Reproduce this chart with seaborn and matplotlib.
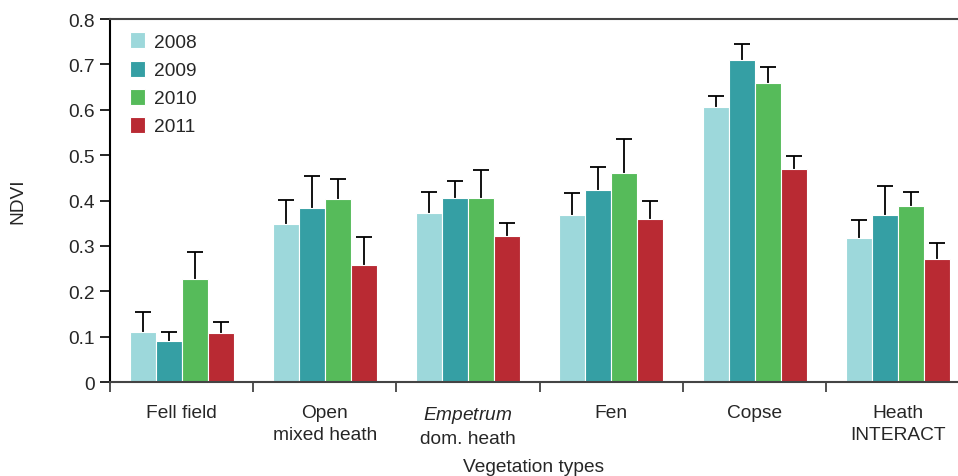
import numpy as np
import pandas as pd
import matplotlib
matplotlib.use("Agg")
import matplotlib.pyplot as plt
import seaborn as sns

# ── DATA ──────────────────────────────────────────────────────────────
vegetation = ["Fell field", "Open\nmixed heath", "Empetrum\ndom. heath",
              "Fen", "Copse", "Heath\nINTERACT"]
years = ["2008", "2009", "2010", "2011"]

ndvi_2008 = [0.111, 0.349, 0.372, 0.368, 0.606, 0.318]
ndvi_2009 = [0.090, 0.383, 0.406, 0.424, 0.710, 0.369]
ndvi_2010 = [0.227, 0.404, 0.406, 0.461, 0.660, 0.388]
ndvi_2011 = [0.107, 0.259, 0.322, 0.360, 0.470, 0.272]

# upper error (SE) above each bar
err_2008 = [0.044, 0.052, 0.047, 0.049, 0.024, 0.040]
err_2009 = [0.020, 0.072, 0.038, 0.051, 0.035, 0.064]
err_2010 = [0.060, 0.044, 0.062, 0.074, 0.034, 0.031]
err_2011 = [0.026, 0.060, 0.028, 0.039, 0.028, 0.034]

colors = ["#9dd8db", "#359fa4", "#56bb5a", "#b92a33"]

values = [ndvi_2008, ndvi_2009, ndvi_2010, ndvi_2011]
errors = [err_2008, err_2009, err_2010, err_2011]

df = pd.DataFrame({
    "veg":  np.tile(vegetation, len(years)),
    "year": np.repeat(years, len(vegetation)),
    "ndvi": np.concatenate(values),
    "err":  np.concatenate(errors),
})

# ── PLOT ──────────────────────────────────────────────────────────────
sns.set_style("white")
plt.rcParams["font.family"] = ["Liberation Sans", "DejaVu Sans"]
plt.rcParams["mathtext.fontset"] = "custom"
plt.rcParams["mathtext.it"] = "Liberation Sans:italic"
plt.rcParams["mathtext.rm"] = "Liberation Sans"
fs = 13.8

fig = plt.figure(figsize=(9.58, 4.77), dpi=100)
ax = fig.add_axes([0.1148, 0.197, 0.8852, 0.761])

sns.barplot(data=df, x="veg", y="ndvi", hue="year", order=vegetation,
            hue_order=years, palette=colors, width=0.725, errorbar=None,
            edgecolor="white", linewidth=0.8, saturation=1, ax=ax, zorder=2)

# error bars: stem behind the bar, cap only on top
for bars, yr in zip(ax.containers, years):
    sub = df[df["year"] == yr].set_index("veg").loc[vegetation]
    xs = [b.get_x() + b.get_width() / 2 for b in bars]
    tops = sub["ndvi"] + sub["err"]
    ax.errorbar(xs, sub["ndvi"], yerr=[np.zeros(len(xs)), sub["err"]],
                fmt="none", ecolor="black", elinewidth=1.3,
                capsize=0, zorder=1)
    ax.plot(xs, tops, ls="none", marker="_", ms=11, mew=1.3,
            color="black", zorder=1)

ax.set_ylim(0, 0.8)
ax.set_xlim(-0.5, 5.42)
ax.set_yticks(np.arange(0, 0.81, 0.1))
ax.set_yticklabels(["0"] + [f"{v:.1f}" for v in np.arange(0.1, 0.81, 0.1)])

# group labels centred, ticks at group boundaries
ax.set_xticks(range(len(vegetation)))
ax.set_xticklabels(["Fell field", "Open\nmixed heath",
                    "$\\it{Empetrum}$\ndom. heath", "Fen", "Copse",
                    "Heath\nINTERACT"], linespacing=1.35)
ax.set_xticks(np.arange(-0.5, 5.5, 1), minor=True)
ax.tick_params(axis="x", which="major", length=0, pad=16, labelsize=fs)
ax.tick_params(axis="x", which="minor", length=7, width=1.2,
               direction="out", color="#333333", bottom=True)
ax.tick_params(axis="y", length=7, width=1.2, direction="out",
               labelsize=fs, left=True, color="black", pad=4)

ax.set_xlabel("Vegetation types", fontsize=fs, labelpad=8)
ax.set_ylabel("NDVI", fontsize=fs, labelpad=30)

for side in ["left", "bottom", "top"]:
    ax.spines[side].set_visible(True)
    ax.spines[side].set_linewidth(1.5)
ax.spines["left"].set_color("black")
ax.spines["bottom"].set_color("#444444")
ax.spines["top"].set_color("#444444")
ax.spines["right"].set_visible(False)

leg = ax.legend(loc="upper left", frameon=False, fontsize=fs,
                handlelength=0.75, handleheight=0.9, handletextpad=0.5,
                labelspacing=0.5, borderaxespad=0.3,
                bbox_to_anchor=(0.008, 1.0))

fig.savefig("out.png", dpi=100)
